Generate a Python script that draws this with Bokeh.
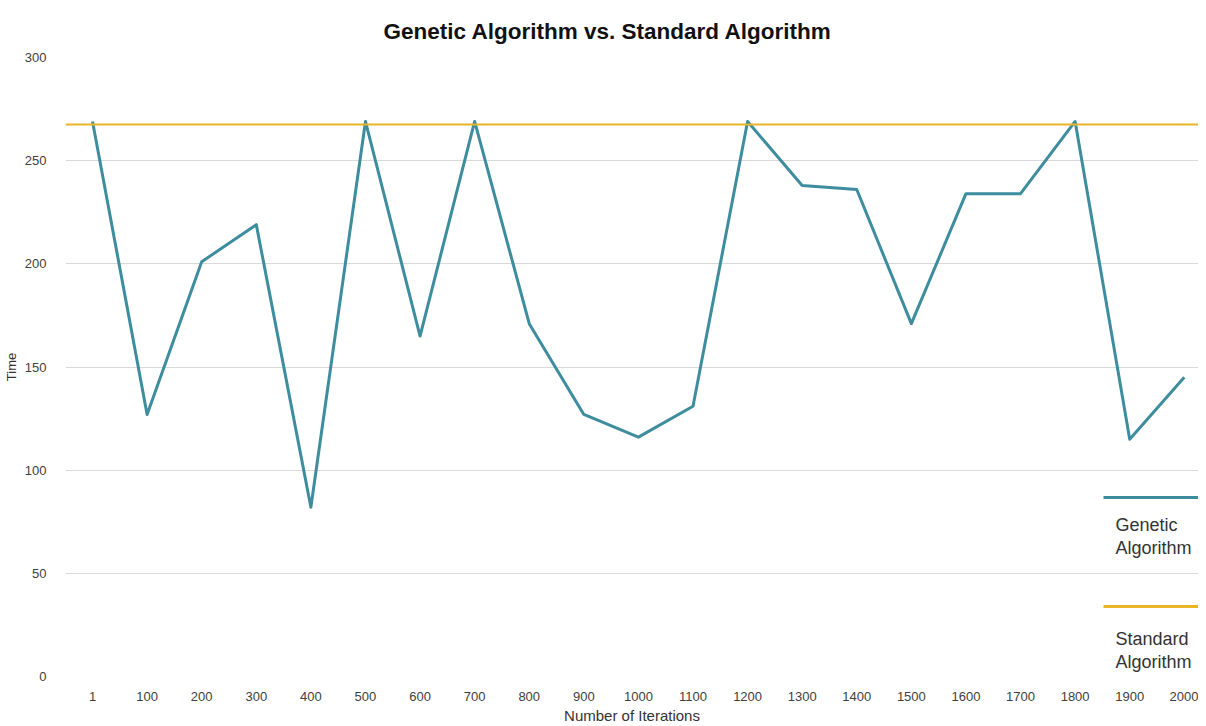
from bokeh.plotting import figure
from bokeh.models import FixedTicker, Span, Label, BoxAnnotation, Range1d
from bokeh.embed import file_html
from bokeh.resources import INLINE

# ---- data ----
iterations = ["1", "100", "200", "300", "400", "500", "600", "700", "800", "900", "1000",
              "1100", "1200", "1300", "1400", "1500", "1600", "1700", "1800", "1900", "2000"]
genetic_time = [269, 127, 201, 219, 82, 269, 165, 269, 171, 127, 116,
                131, 269, 238, 236, 171, 234, 234, 269, 115, 145]
standard_time = 267.5
y_ticks = [0, 50, 100, 150, 200, 250, 300]

FONT = "Liberation Sans"
TEAL = "#3e8d9f"
GOLD = "#e9b425"

idx = list(range(len(iterations)))

p = figure(width=1198, height=726, output_backend="svg", toolbar_location=None,
           x_range=Range1d(-0.495, 20.26), y_range=Range1d(0, 300),
           min_border_left=57, min_border_right=0, min_border_top=57, min_border_bottom=0)

p.outline_line_color = None
p.background_fill_color = "white"
p.border_fill_color = "white"

# title
p.title.text = "Genetic Algorithm vs. Standard Algorithm"
p.title.text_font = FONT
p.title.text_font_size = "22.5px"
p.title.text_font_style = "bold"
p.title.text_color = "#111111"
p.title.align = "left"
p.title.offset = 318
p.title.standoff = 28

# axes
p.xaxis.ticker = FixedTicker(ticks=idx)
p.xaxis.major_label_overrides = {i: lab for i, lab in zip(idx, iterations)}
p.yaxis.ticker = FixedTicker(ticks=y_ticks)
for ax in (p.xaxis[0], p.yaxis[0]):
    ax.axis_line_color = None
    ax.major_tick_line_color = None
    ax.minor_tick_line_color = None
    ax.major_label_text_font = FONT
    ax.major_label_text_font_size = "13px"
    ax.major_label_text_color = "#404040"
    ax.axis_label_text_font = FONT
    ax.axis_label_text_font_style = "normal"
    ax.axis_label_text_color = "#333333"
p.xaxis.axis_label = "Number of Iterations"
p.xaxis.axis_label_text_font_size = "15px"
p.xaxis.major_label_standoff = 9
p.xaxis.axis_label_standoff = 3
p.yaxis.axis_label = "Time"
p.yaxis.axis_label_text_font_size = "13px"
p.yaxis.major_label_standoff = 13
p.yaxis.axis_label_standoff = 3

p.xgrid.grid_line_color = None
p.ygrid.grid_line_color = "#d9d9d9"
p.ygrid.grid_line_width = 1

# standard algorithm (constant)
p.add_layout(Span(location=standard_time, dimension="width", line_color=GOLD, line_width=2))

# genetic algorithm
p.line(idx, genetic_time, line_color=TEAL, line_width=3, line_join="round")

# legend (manual, screen units relative to frame)
p.add_layout(BoxAnnotation(left=1038, right=1133, bottom=177.5, top=180.5,
                           left_units="screen", right_units="screen",
                           bottom_units="screen", top_units="screen",
                           fill_color=TEAL, fill_alpha=1, line_color=None))
p.add_layout(BoxAnnotation(left=1038, right=1133, bottom=68.5, top=71.5,
                           left_units="screen", right_units="screen",
                           bottom_units="screen", top_units="screen",
                           fill_color=GOLD, fill_alpha=1, line_color=None))
for txt, yy in [("Genetic", 152), ("Algorithm", 129), ("Standard", 38), ("Algorithm", 15)]:
    p.add_layout(Label(x=1050, y=yy, x_units="screen", y_units="screen", text=txt,
                       text_font=FONT, text_font_size="18px", text_color="#333333",
                       text_baseline="middle", text_align="left"))

open("out.html", "w").write(file_html(p, INLINE))
